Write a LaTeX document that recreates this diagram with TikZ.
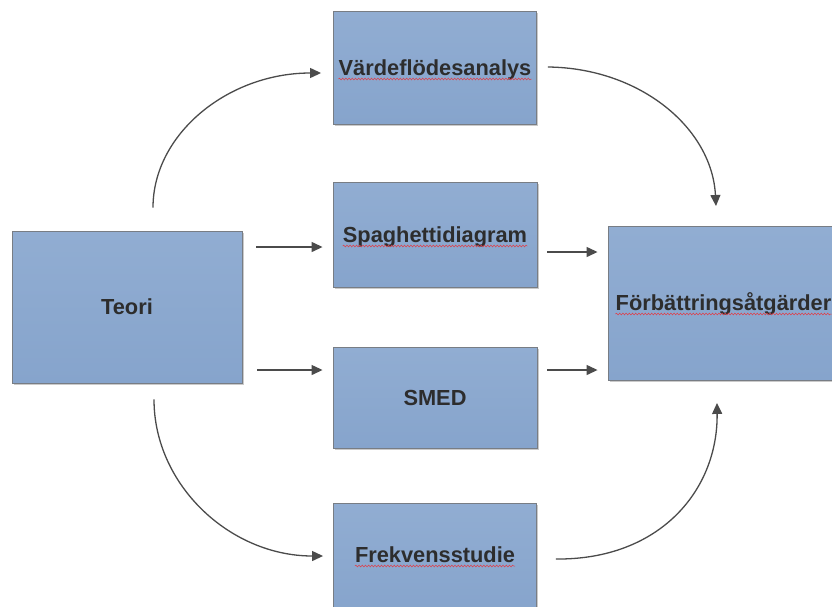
\documentclass[tikz,border=0pt]{standalone}
\usepackage{fontspec}
\setmainfont{Liberation Sans}
\usetikzlibrary{arrows.meta,shadows,decorations.pathmorphing}
\definecolor{boxtop}{RGB}{145,173,210}
\definecolor{boxbot}{RGB}{134,164,204}
\definecolor{boxline}{RGB}{120,125,132}
\definecolor{txt}{RGB}{45,45,45}
\definecolor{arrc}{RGB}{75,75,75}
\definecolor{spell}{RGB}{225,60,70}
\tikzset{
  blockbox/.style={draw=boxline, line width=0.9pt, top color=boxtop, bottom color=boxbot,
    minimum width=#1, inner sep=0pt,
    drop shadow={shadow xshift=1.5pt, shadow yshift=-1.5pt, opacity=0.35, fill=black!60}},
  lbl/.style={font=\fontsize{21.8}{25}\selectfont\bfseries, text=txt, inner sep=0pt, anchor=base},
  arr/.style={draw=arrc, line width=1.3pt, -{Triangle[length=11pt,width=10pt]}},
  wavy/.style={draw=spell, line width=0.5pt, decorate, decoration={snake, amplitude=0.9pt, segment length=3.2pt}}
}
\begin{document}
\begin{tikzpicture}[x=1pt,y=-1pt]
\useasboundingbox (0,0) rectangle (832,606);
\clip (0,0) rectangle (832,606);
% boxes
\node[blockbox=203pt, minimum height=113pt] (vard) at (435,67.5) {};
\node[blockbox=204pt, minimum height=105pt] (spag) at (435,234.5) {};
\node[blockbox=204pt, minimum height=101pt] (smed) at (435,397.5) {};
\node[blockbox=203pt, minimum height=110pt] (frek) at (435,558) {};
\node[blockbox=230pt, minimum height=152pt] (teori) at (127,307) {};
\node[blockbox=230pt, minimum height=154pt] (forb) at (723,303.5) {};
% labels
\node[lbl] (tvard) at (435,75) {Värdeflödesanalys};
\node[lbl] (tspag) at (435,242) {Spaghettidiagram};
\node[lbl] (tsmed) at (435,405) {SMED};
\node[lbl] (tfrek) at (435,562) {Frekvensstudie};
\node[lbl] (tteori) at (127,314) {Teori};
\node[lbl] (tforb) at (723.5,310) {Förbättringsåtgärder};
% spelling underlines
\draw[wavy] ([yshift=-4pt]tvard.base west) -- ([yshift=-4pt]tvard.base east);
\draw[wavy] ([yshift=-4pt]tspag.base west) -- ([yshift=-4pt]tspag.base east);
\draw[wavy] ([yshift=-4pt]tfrek.base west) -- ([yshift=-4pt]tfrek.base east);
\draw[wavy] ([yshift=-4pt]tforb.base west) -- ([yshift=-4pt]tforb.base east);
% straight arrows
\draw[arr] ([xshift=14pt]teori.east |- 0,247) -- ([xshift=-10pt]spag.west |- 0,247);
\draw[arr] ([xshift=15pt]teori.east |- 0,370) -- ([xshift=-10pt]smed.west |- 0,370);
\draw[arr] ([xshift=10pt]spag.east |- 0,252) -- ([xshift=-10pt]forb.west |- 0,252);
\draw[arr] ([xshift=10pt]smed.east |- 0,370) -- ([xshift=-10pt]forb.west |- 0,370);
% curved arrows
\draw[arr] ([xshift=26pt,yshift=23pt]teori.north) .. controls (153,134) and (228,73) .. ([xshift=-12pt]vard.west |- 0,73);
\draw[arr] ([xshift=11pt]vard.east |- 0,67) .. controls (640,68) and (712,128) .. (716,206);
\draw[arr] ([xshift=27pt,yshift=-16pt]teori.south) .. controls (154,485) and (230,556) .. ([xshift=-10pt]frek.west |- 0,556);
\draw[arr] ([xshift=19pt]frek.east |- 0,559) .. controls (660,560) and (718,490) .. ([xshift=-6pt,yshift=-22pt]forb.south);
\end{tikzpicture}
\end{document}
